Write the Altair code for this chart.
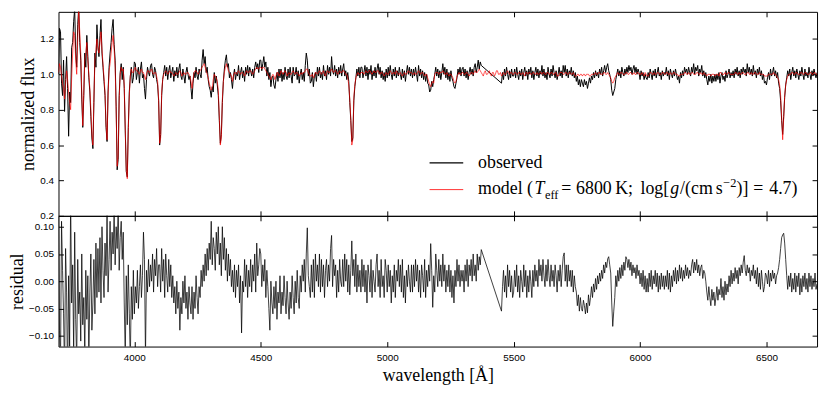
import altair as alt
import numpy as np
import pandas as pd

# ---------------- data ----------------
WL_START = 3700   # first sample, Angstrom
WL_STEP = 4       # sample spacing, Angstrom
X_TICKS = [4000, 4500, 5000, 5500, 6000, 6500]
FLUX_TICKS = [0.2, 0.4, 0.6, 0.8, 1.0, 1.2]
RES_TICKS = [-0.10, -0.05, 0.0, 0.05, 0.10]
GAP = [None] * 19   # 5376-5448 A: no observed data

# observed normalized flux, units of 0.01 (None = no data); one row = 200 A
observed_flux = (
    [100, 126, 124, 95, 88, 108, 79, 97, 110, 92, 65, 90, 84, 115, 118, 130, 137, 112, 104, 128,
     138, 118, 108, 86, 70, 88, 112, 104, 122, 110, 98, 90, 76, 64, 58, 84, 112, 104, 128, 116,
     110, 122, 131, 112, 104, 96, 88, 70, 62, 90]
    + [104, 112, 118, 126, 131, 117, 108, 82, 46, 52, 88, 101, 106, 97, 104, 92, 68, 45, 42, 70,
       90, 99, 104, 95, 98, 107, 106, 97, 101, 104, 95, 103, 107, 98, 100, 92, 86, 97, 104, 101,
       99, 105, 106, 100, 98, 104, 102, 97, 94, 85]
    + [60, 66, 88, 97, 101, 105, 99, 104, 97, 102, 105, 98, 101, 104, 96, 102, 99, 104, 98, 103,
       106, 99, 97, 103, 99, 95, 101, 104, 100, 97, 99, 92, 86, 95, 101, 98, 104, 99, 97, 103,
       100, 98, 108, 114, 106, 110, 101, 104, 97, 93]
    + [91, 87, 93, 90, 101, 95, 99, 94, 88, 74, 61, 66, 84, 96, 103, 108, 111, 104, 106, 98,
       101, 97, 92, 99, 103, 97, 101, 99, 105, 97, 101, 104, 98, 102, 96, 104, 100, 105, 99, 104,
       102, 99, 103, 98, 104, 107, 103, 106, 101, 108]
    + [108, 102, 106, 110, 104, 107, 99, 104, 97, 101, 93, 98, 99, 94, 92, 97, 101, 96, 103, 98,
       103, 96, 101, 97, 104, 99, 97, 103, 98, 104, 99, 95, 104, 99, 100, 104, 97, 102, 95, 100,
       103, 97, 101, 96, 105, 112, 108, 99, 103, 95]
    + [96, 101, 93, 99, 101, 96, 104, 99, 104, 98, 101, 97, 105, 99, 102, 97, 105, 100, 104, 99,
       110, 102, 100, 105, 99, 103, 98, 104, 100, 105, 99, 103, 106, 99, 102, 97, 101, 96, 84, 74,
       62, 64, 85, 93, 98, 103, 99, 104, 98, 104]
    + [104, 98, 101, 105, 99, 104, 97, 103, 100, 105, 97, 102, 99, 104, 98, 103, 106, 100, 104, 98,
       102, 97, 101, 96, 103, 98, 104, 99, 105, 100, 97, 103, 99, 104, 98, 102, 99, 104, 100, 97,
       103, 98, 102, 96, 101, 105, 100, 104, 99, 103]
    + [98, 103, 99, 104, 100, 96, 105, 99, 103, 98, 102, 97, 101, 96, 100, 95, 94, 90, 91, 96,
       93, 97, 100, 104, 99, 103, 98, 102, 97, 101, 106, 100, 104, 98, 103, 97, 101, 96, 102, 98,
       96, 93, 92, 95, 98, 103, 100, 104, 99, 103]
    + [104, 99, 103, 98, 102, 97, 101, 104, 100, 103, 99, 104, 106, 101, 104, 108, 103, 107, 105]
    + GAP
    + [95, 101, 97, 103, 99, 104, 100, 97, 102, 98, 103, 99]
    + [99, 103, 98, 104, 100, 97, 102, 99, 103, 97, 101, 104, 99, 102, 97, 103, 100, 104, 98, 102,
       97, 101, 104, 99, 103, 98, 102, 100, 105, 99, 103, 98, 101, 97, 104, 100, 98, 103, 99, 105,
       101, 98, 102, 97, 100, 104, 99, 102, 98, 105]
    + [101, 105, 99, 103, 98, 102, 100, 104, 99, 102, 98, 101, 96, 99, 94, 97, 93, 97, 95, 93,
       97, 94, 96, 92, 95, 98, 95, 99, 97, 101, 98, 102, 99, 101, 98, 103, 100, 104, 99, 102,
       105, 101, 104, 106, 102, 100, 97, 91, 88, 90]
    + [92, 97, 100, 103, 99, 102, 98, 104, 101, 99, 103, 100, 104, 101, 105, 102, 104, 100, 103, 105,
       101, 104, 100, 103, 101, 97, 102, 99, 101, 97, 100, 98, 97, 101, 98, 103, 100, 97, 102, 99,
       103, 98, 101, 104, 99, 101, 97, 102, 99, 101]
    + [100, 104, 99, 102, 97, 103, 100, 98, 102, 99, 103, 100, 97, 99, 95, 101, 98, 102, 99, 104,
       101, 103, 100, 104, 101, 99, 104, 101, 106, 100, 104, 102, 105, 99, 103, 101, 105, 99, 102, 98,
       101, 97, 94, 99, 96, 100, 95, 99, 96, 100]
    + [96, 100, 97, 101, 95, 99, 101, 97, 99, 96, 102, 98, 100, 103, 98, 101, 99, 102, 98, 103,
       100, 104, 99, 102, 98, 103, 100, 104, 101, 103, 99, 106, 101, 104, 100, 103, 99, 105, 100, 102,
       98, 103, 100, 104, 99, 102, 97, 100, 95, 96]
    + [94, 98, 101, 97, 103, 99, 101, 104, 99, 102, 98, 101, 95, 92, 85, 74, 66, 76, 87, 94,
       98, 102, 99, 103, 97, 101, 104, 99, 102, 98, 103, 100, 97, 102, 99, 104, 100, 97, 103, 99,
       101, 98, 104, 100, 97, 102, 99, 103, 100, 98]
    + [101]
)

# model normalized flux, units of 0.01
model_flux = (
    [101, 106, 104, 99, 95, 92, 86, 95, 102, 97, 90, 84, 80, 98, 112, 124, 122, 108, 100, 120,
     136, 124, 112, 90, 71, 90, 108, 112, 118, 108, 100, 92, 80, 66, 60, 86, 108, 114, 120, 114,
     112, 118, 124, 114, 106, 98, 90, 72, 63, 88]
    + [102, 106, 112, 118, 122, 114, 104, 80, 48, 54, 86, 100, 104, 102, 103, 94, 70, 46, 41, 68,
       88, 99, 103, 101, 101, 103, 104, 102, 102, 101, 100, 102, 103, 101, 101, 99, 97, 100, 102, 102,
       101, 102, 103, 101, 100, 101, 101, 99, 96, 86]
    + [61, 64, 90, 97, 100, 101, 102, 101, 100, 101, 102, 101, 101, 100, 99, 100, 101, 100, 100, 101,
       102, 101, 99, 100, 101, 100, 100, 101, 101, 100, 99, 96, 92, 97, 101, 102, 102, 101, 100, 101,
       102, 103, 104, 105, 106, 104, 102, 100, 98, 95]
    + [93, 91, 92, 97, 100, 99, 98, 96, 91, 76, 60, 64, 86, 96, 101, 104, 106, 104, 102, 101,
       100, 99, 96, 99, 101, 101, 100, 101, 102, 101, 100, 101, 101, 100, 99, 101, 102, 101, 101, 102,
       102, 101, 100, 101, 102, 103, 104, 103, 103, 104]
    + [104, 103, 104, 104, 103, 102, 101, 100, 99, 98, 97, 99, 100, 99, 97, 99, 101, 101, 99, 100,
       102, 101, 100, 101, 102, 101, 99, 100, 101, 100, 100, 101, 102, 101, 100, 101, 101, 100, 99, 100,
       101, 100, 101, 101, 102, 103, 103, 101, 100, 99]
    + [99, 100, 98, 99, 101, 101, 100, 101, 102, 101, 100, 101, 102, 100, 99, 101, 102, 101, 101, 102,
       103, 102, 101, 102, 102, 101, 100, 101, 102, 101, 101, 102, 102, 101, 100, 100, 98, 94, 86, 75,
       60, 63, 87, 94, 98, 100, 101, 100, 100, 101]
    + [101, 101, 100, 101, 102, 101, 101, 102, 102, 101, 100, 101, 102, 101, 101, 102, 102, 101, 100, 101,
       101, 100, 99, 100, 101, 100, 100, 101, 102, 101, 100, 101, 101, 100, 102, 101, 100, 100, 101, 100,
       99, 100, 101, 100, 100, 101, 102, 101, 101, 101]
    + [100, 100, 101, 100, 100, 101, 102, 101, 100, 101, 101, 100, 99, 100, 100, 98, 96, 94, 93, 95,
       96, 95, 100, 101, 101, 101, 100, 101, 101, 101, 102, 101, 100, 100, 101, 100, 99, 100, 100, 99,
       98, 96, 95, 96, 99, 100, 101, 100, 100, 101]
    + [101, 100, 100, 101, 101, 100, 99, 100, 101, 101, 100, 101, 102, 101, 101, 102, 103, 102, 101, 100,
       99, 101, 102, 100, 100, 101, 102, 100, 99, 101, 101, 99, 100, 102, 102, 100, 100, 101, 99, 100,
       101, 100, 100, 101, 102, 101, 100, 101, 101, 100]
    + [100, 101, 101, 100, 100, 101, 101, 100, 100, 101, 100, 99, 101, 101, 100, 101, 101, 100, 100, 101,
       101, 100, 100, 101, 100, 100, 101, 101, 100, 101, 101, 100, 100, 101, 101, 100, 100, 101, 101, 100,
       100, 101, 101, 99, 99, 100, 101, 101, 101, 100]
    + [100, 101, 101, 100, 100, 101, 101, 100, 100, 101, 100, 99, 99, 100, 100, 99, 100, 100, 99, 100,
       100, 99, 100, 100, 100, 99, 99, 100, 100, 100, 100, 101, 100, 100, 101, 101, 100, 100, 100, 101,
       101, 100, 100, 101, 100, 99, 98, 96, 95, 96]
    + [98, 99, 100, 101, 100, 100, 101, 101, 100, 100, 100, 101, 101, 100, 100, 101, 101, 100, 100, 101,
       100, 100, 101, 101, 100, 100, 100, 101, 100, 99, 101, 100, 99, 99, 100, 101, 101, 100, 100, 101,
       100, 100, 101, 101, 100, 100, 100, 101, 101, 100]
    + [100, 101, 101, 100, 100, 101, 100, 100, 101, 101, 100, 100, 100, 99, 99, 100, 100, 100, 100, 101,
       101, 100, 100, 101, 100, 100, 101, 101, 100, 100, 100, 101, 101, 100, 100, 101, 100, 100, 101, 100,
       100, 99, 100, 100, 100, 99, 100, 100, 100, 99]
    + [100, 100, 100, 99, 101, 101, 100, 100, 100, 101, 100, 100, 101, 101, 100, 100, 100, 100, 100, 101,
       101, 100, 100, 101, 100, 100, 101, 101, 100, 100, 100, 101, 101, 100, 100, 101, 100, 100, 101, 101,
       100, 100, 100, 101, 100, 100, 100, 100, 99, 99]
    + [99, 99, 100, 100, 100, 100, 100, 101, 100, 100, 99, 98, 97, 94, 88, 76, 63, 75, 88, 94,
       97, 99, 100, 100, 100, 101, 101, 100, 100, 101, 101, 100, 100, 100, 101, 101, 100, 100, 101, 101,
       100, 100, 100, 101, 101, 100, 100, 101, 101, 100]
    + [100]
)

# residual, units of 0.001 (None = no data)
residual = (
    [140, -90, -150, 110, 20, -60, -170, 60, -20, -190, 10, -120, 150, -40, 30, -130, 90, -70, -150, 40,
     -60, -20, -110, 50, -80, -30, -130, 20, -70, 10, -150, -20, 50, -90, -40, 40, -60, 70, -30, 60,
     -20, 80, -40, 100, 20, -30, 70, 10, 130, -20]
    + [40, 110, 20, 90, 50, 130, 30, 100, 60, 140, 20, 80, 110, 40, 90,
       -40, -140, 10, -80, 30, -60, -150, -10, -70, 20,
       -60, -10, -40, 20, -50, -10, 30, -30, 10, 90,
       40, -140, 20, -20, 40, -10, 30, 0, 50, -20, 40, 10, 60, -10, 30]
    + [30, -20, 60, 0, 40, -30, 50, 10, -20, 40, -10, 30, -30,
       10, -40, -10, -60, 0, -50, -20, -90, -30, -60, 0, -40, 10, -50, -20, -70, -10, -40, -60, -10,
       -70, -20, -50, 10, -30, -60, -10,
       -30, 20, -10, 30, 0, 50, 10, 60, 20, 70]
    + [40, 110, 30, 80, 60, 20, 90, 50, 100, 30, 70, 10, 100, 40, 80, 20, 60, 0, 50, 10, 40, -10, 20,
       -20, 30, -30, 20, -10, 30, -40, 10, -95, 0, -20, 40, -10, 30, -30, 20, -10, 40, -20, 30, 0, 50,
       -20, 70, 10, 30, 60]
    + [50, -10, 30, 0, 40, -30, 20, -10,
       -50, -90, 0, -40, -60, -10, -50, 0, -70, -20, -40, 10, -60, -20, -45, 10, -30, -60, 0, -40,
       -70, -20, -50, 10, -30, -60, 0, -40, 20, -30, -50, 10, -20, 30,
       0, 40, -20, 50, 98, 10, -10, -30]
    + [30, -20, 40, -30, 50, 0, 30, -10, 50, -20, 40, -10, 30, -30, 20, 40, -10, 30, 0, 60,
       84, -10, 40, 10, 30, -30, 20, -20, 40, 0, -10, 40, -10, 50, 0, 40, -20, 30, -25, 20,
       74, 10, 40, -10, 50, -20, 30, -10, 20, -20]
    + [40, -10, 30, -20, 20, -40, 30, 10, -20, 40, -30, 20, 0, -20, 30, 50, -10, 20, -30, 40,
       -10, 10, -30, 40, 20, -20, 30, -10, 20, -40, 10, -20, 30, -30, 20, 0, 40, -10, 30, -20,
       40, -30, 10, -40, 20, -10, 30, 0, -20, 30]
    + [-20, 30, -10, 40, 0, 30, -20, 20, -30, 30, 10, -20, 40, -30, 20, -10, 30, 0, 69, 20,
       -48, 10, -20, 50, 20, -10, 40, 0, 30, -10, 50, 0, 30, -20, 20, -10, 30, -20, 20, -30,
       10, -40, 20, -10, 40, 0, 30, -10, 20, 0]
    + [20, -20, 30, 0, 40, -10, 30, 10, 40, 0, 50, 10, 30, 0, 50, 20, 45, 30, 58]
    + GAP
    + [-55, -10, 20, -20, 10, -30, 30, -10, 20, -20, 10, -30]
    + [-20, 20, -10, 30, -20, 10, -30, 20, 0, -20, 30, -10, 20, -30, 10, -20, 20, 0, -30, 20,
       -10, 30, 0, 20, -10, 40, 10, 30, 0, 40, 10, -10, 30, 0, 40, 10, -10, 30, 0, 20,
       -10, 30, 10, -20, 20, 0, 30, -10, 20, 45]
    + [52, 0, 30, -10, 30, 0, 20, -10, 20, -20, 10, -10,
       -20, -45, -25, -55, -30, -50, -55, -35, -45, -60, -40, -58, -25, -45, -30,
       -10, -30, -5, -20, 5, -15, 10, -5, 15, 0, 20, 5, 30, 15, 35, 25, 41, 45, 30, 15,
       -40, -83, -55]
    + [-30, 10, -10, 20, 0, 25, 5, 30, 10, 35, 20, 45, 40, 25, 40, 20, 35, 10, 30, 15, 25, 5, 30, 10, 20,
       -5, 15, -10, 20, -15, 10, -20, 5, -20, 15, -10, 20, -15, 10, -5, 20, -10, 15, -20, 10, -15, 15,
       -10, 10, -15]
    + [10, -10, 20, -15, 15, -20, 10, -10, 20, 0, 25, -5, 20, 0, 30, 5, 25, 0, 20, 5, 30, 10, 25, 5, 20,
       10, 30, 40, 15, 35, 20, 40, 15, 30, 10, 25, 30, 5, 20, 15,
       0, -20, -35, -10, -30, -45, -15, -35, -20, -45]
    + [-30, -10, -35, -15, -25, 5, -30, -10, -35, 0, -25, -5, -20,
       10, -10, 20, -5, 15, 0, 25, 5, 20, -5, 25, 10, 30, 15, 35, 47, 20, 10, 30, 15, 25, 0, 20, 10,
       30, 5, 20, -5, 25, -10, 15, -15, 20, 0, -20, -10, 15]
    + [10, -5, 20, -10, 15, 0, 20, 5, 15, -5, 10, 15,
       25, 40, 60, 80, 85, 88, 70, 40, 10,
       -15, 10, -10, 15, -20, 5, -15, 15, -20, 10, -10, 15, -25, 5, -20, 10, -10, 15, -15, 5,
       -20, 15, -10, 10, -15, 5, -10, 15, -15]
    + [-5]
)

assert len(observed_flux) == len(model_flux) == len(residual) == 751
wl = WL_START + WL_STEP * np.arange(len(model_flux))

obs_df = pd.DataFrame({"wl": wl, "flux": pd.Series(observed_flux, dtype=float) / 100}).dropna()
model_df = pd.DataFrame({"wl": wl, "flux": pd.Series(model_flux, dtype=float) / 100})
res_df = pd.DataFrame({"wl": wl, "res": pd.Series(residual, dtype=float) / 1000}).dropna()

# ---------------- chart ----------------
W = 766
H_TOP = 206
H_BOT = 132
TICK = 5
SERIF = "Liberation Serif"

xs = alt.Scale(domain=[3700, 6700], nice=False, zero=False)
ys_top = alt.Scale(domain=[0.2, 1.353], nice=False, zero=False)
ys_bot = alt.Scale(domain=[-0.12, 0.12], nice=False, zero=False)


def tick_axis(orient, values):
    return alt.Axis(orient=orient, offset=-TICK, tickSize=TICK, values=values, labels=False,
                    domain=False, grid=False, title=None, ticks=True, tickColor="black", tickWidth=1)


def frame_ticks(df, field, yscale, yvals):
    a = alt.Chart(df).mark_line(opacity=0).encode(
        x=alt.X("wl:Q", scale=xs, axis=tick_axis("bottom", X_TICKS)),
        y=alt.Y(f"{field}:Q", scale=yscale, axis=tick_axis("left", yvals)))
    b = alt.Chart(df).mark_line(opacity=0).encode(
        x=alt.X("wl:Q", scale=xs, axis=tick_axis("top", X_TICKS)),
        y=alt.Y(f"{field}:Q", scale=yscale, axis=tick_axis("right", yvals)))
    return [a, b]


def ltext(txt, x, y, size=18, style="normal"):
    return alt.Chart(pd.DataFrame({"t": [txt]})).mark_text(
        align="left", baseline="alphabetic", font=SERIF, fontSize=size, fontStyle=style, color="black"
    ).encode(text="t:N", x=alt.value(x), y=alt.value(y))


def lrule(color, x1, x2, y, width):
    return alt.Chart(pd.DataFrame({"s": [color]})).mark_rule(color=color, strokeWidth=width).encode(
        x=alt.value(x1), x2=alt.value(x2), y=alt.value(y))


obs_line = alt.Chart(obs_df).mark_line(color="black", strokeWidth=1.0, clip=True).encode(
    x=alt.X("wl:Q", scale=xs, axis=None),
    y=alt.Y("flux:Q", scale=ys_top, axis=alt.Axis(
        orient="left", values=FLUX_TICKS, format=".1f", ticks=False, tickSize=0, domain=False,
        grid=False, labelPadding=5, title="normalized flux", titlePadding=2)))

model_line = alt.Chart(model_df).mark_line(color="#ff0000", strokeWidth=0.8, opacity=0.85, clip=True).encode(
    x=alt.X("wl:Q", scale=xs, axis=None),
    y=alt.Y("flux:Q", scale=ys_top, axis=None))

# legend (pixel offsets inside the top plot area)
OX, OY = 57.3, 8.5
legend = [
    lrule("black", 432 - OX, 466 - OX, 161 - OY, 1.2),
    lrule("#ff3333", 432 - OX, 466 - OX, 188 - OY, 1.0),
    ltext("observed", 481 - OX, 166 - OY),
    ltext("model (", 481 - OX, 192.5 - OY),
    ltext("T", 538 - OX, 192.5 - OY, style="italic"),
    ltext("eff", 548.5 - OX, 197 - OY, size=12.5),
    ltext("=", 565 - OX, 192.5 - OY),
    ltext("6800", 580 - OX, 192.5 - OY),
    ltext("K;", 619.5 - OX, 192.5 - OY),
    ltext("log[", 645 - OX, 192.5 - OY),
    ltext("g", 675 - OX, 192.5 - OY, style="italic"),
    ltext("/(cm", 685 - OX, 192.5 - OY),
    ltext("s", 721 - OX, 192.5 - OY),
    ltext("\u22122", 728.5 - OX, 185 - OY, size=12.5),
    ltext(")]", 742 - OX, 192.5 - OY),
    ltext("=", 759 - OX, 192.5 - OY),
    ltext("4.7)", 775 - OX, 192.5 - OY),
]

top = alt.layer(obs_line, model_line, *frame_ticks(model_df, "flux", ys_top, FLUX_TICKS), *legend).resolve_axis(
    x="independent", y="independent").properties(width=W, height=H_TOP)

res_line = alt.Chart(res_df).mark_line(color="#000000", strokeWidth=0.75, clip=True).encode(
    x=alt.X("wl:Q", scale=xs, axis=alt.Axis(
        orient="bottom", values=X_TICKS, format="d", ticks=False, tickSize=0, domain=False, grid=False,
        labelPadding=6, title="wavelength [Å]", titlePadding=4)),
    y=alt.Y("res:Q", scale=ys_bot, axis=alt.Axis(
        orient="left", values=RES_TICKS, format=".2f", ticks=False, tickSize=0, domain=False,
        grid=False, labelPadding=5, title="residual", titlePadding=2)))

bottom = alt.layer(res_line, *frame_ticks(res_df, "res", ys_bot, RES_TICKS)).resolve_axis(
    x="independent", y="independent").properties(width=W, height=H_BOT)

chart = alt.vconcat(top, bottom, spacing=0, bounds="flush").properties(
    padding={"left": 0, "top": 0, "right": 4, "bottom": 4}
).configure_view(stroke="black", strokeWidth=1).configure_axis(
    labelFont="Liberation Sans", labelFontSize=10, labelColor="black",
    titleFont=SERIF, titleFontSize=18, titleFontWeight="normal", titleColor="black")

chart.save("out.html", embed_options={"renderer": "svg", "actions": False})
